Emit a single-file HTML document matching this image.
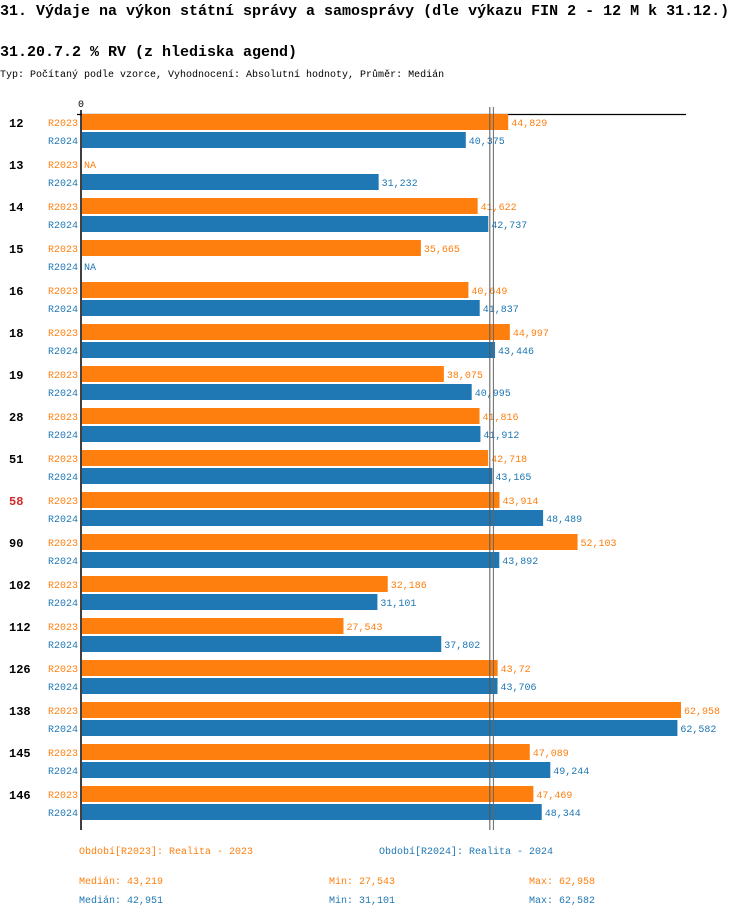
<!DOCTYPE html>
<html><head><meta charset="utf-8"><style>
body{margin:0;width:750px;height:918px;background:#fff;font-family:"Liberation Mono",monospace;overflow:hidden}
svg text{font-family:"Liberation Mono",monospace}
</style></head><body>
<svg id="c" width="750" height="918">
<text x="0" y="15" font-size="15" font-weight="bold">31. Výdaje na výkon státní správy a samosprávy (dle výkazu FIN 2 - 12 M k 31.12.)</text>
<text x="0" y="56" font-size="15" font-weight="bold">31.20.7.2 % RV (z hlediska agend)</text>
<text x="0" y="77" font-size="10">Typ: Počítaný podle vzorce, Vyhodnocení: Absolutní hodnoty, Průměr: Medián</text>
<text x="81" y="107" font-size="10" text-anchor="middle">0</text>
<line x1="77" y1="114.5" x2="686" y2="114.5" stroke="#000" stroke-width="1.2"/>
<line x1="81" y1="110" x2="81" y2="830" stroke="#000" stroke-width="1.5"/>
<g id="bars"></g>
<text x="79" y="854" font-size="10" fill="#ff7f0e">Období[R2023]: Realita - 2023</text>
<text x="379" y="854" font-size="10" fill="#1f77b4">Období[R2024]: Realita - 2024</text>
<text x="79" y="884" font-size="10" fill="#ff7f0e">Medián: 43,219</text>
<text x="329" y="884" font-size="10" fill="#ff7f0e">Min: 27,543</text>
<text x="529" y="884" font-size="10" fill="#ff7f0e">Max: 62,958</text>
<text x="79" y="903" font-size="10" fill="#1f77b4">Medián: 42,951</text>
<text x="329" y="903" font-size="10" fill="#1f77b4">Min: 31,101</text>
<text x="529" y="903" font-size="10" fill="#1f77b4">Max: 62,582</text>
</svg>
<script>
const categories=["12","13","14","15","16","18","19","28","51","58","90","102","112","126","138","145","146"];
const r2023=[44.829,null,41.622,35.665,40.649,44.997,38.075,41.816,42.718,43.914,52.103,32.186,27.543,43.72,62.958,47.089,47.469];
const r2024=[40.375,31.232,42.737,null,41.837,43.446,40.995,41.912,43.165,48.489,43.892,31.101,37.802,43.706,62.582,49.244,48.344];
const labels2023=["44,829","NA","41,622","35,665","40,649","44,997","38,075","41,816","42,718","43,914","52,103","32,186","27,543","43,72","62,958","47,089","47,469"];
const labels2024=["40,375","31,232","42,737","NA","41,837","43,446","40,995","41,912","43,165","48,489","43,892","31,101","37,802","43,706","62,582","49,244","48,344"];
const medians=[43.219,42.951];
const highlight="58";
const X0=81, SCALE=600/62.958, G0=114, GS=42, BH=16;
const xs=v=>X0+v*SCALE;
const NS="http://www.w3.org/2000/svg";
const g=document.getElementById('bars');
function mk(t,a){const e=document.createElementNS(NS,t);for(const k in a)e.setAttribute(k,a[k]);return e;}
const cols=["#ff7f0e","#1f77b4"];
categories.forEach((c,i)=>{
  const top=G0+i*GS;
  const t=mk('text',{x:9,y:top+13,'font-size':12,'font-weight':'bold',fill:c===highlight?'#d62728':'#000'});
  t.textContent=c;
  
  
  g.appendChild(t);
  [[r2023,labels2023,"R2023"],[r2024,labels2024,"R2024"]].forEach((s,j)=>{
    const y=top+j*18;
    const lab=mk('text',{x:78,y:y+12,'font-size':10,'text-anchor':'end',fill:cols[j]});
    lab.textContent=s[2];
    
    
    g.appendChild(lab);
    const v=s[0][i];
    let end=X0;
    if(v!==null){
      end=xs(v);
      const r=mk('rect',{x:X0+1,y:y,width:end-X0-1,height:BH,fill:cols[j]});
      
      
      g.appendChild(r);
    }
    const vt=mk('text',{x:end+3,y:y+12,'font-size':10,fill:cols[j]});
    vt.textContent=s[1][i];
    
    
    g.appendChild(vt);
  });
});
medians.forEach((m,j)=>{
  const x=xs(m)+(j===0?0.5:-0.5);
  const l=mk('line',{x1:x,y1:107,x2:x,y2:830,stroke:j===0?'#666':'#555','stroke-width':1});
  
  
  g.appendChild(l);
});
</script>
</body></html>
